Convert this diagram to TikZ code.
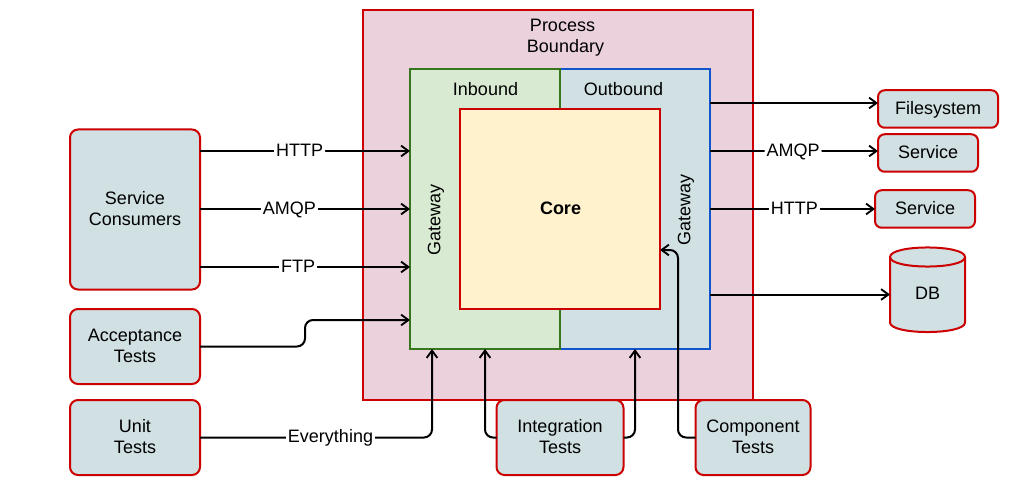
\documentclass[tikz,border=0pt]{standalone}
\usepackage{fontspec}
\setmainfont{Liberation Sans}
\usetikzlibrary{arrows.meta,calc}
\newcommand\nudged[2]{\raisebox{#1}[\height][\depth]{#2}}
\tikzset{
  sized/.style n args={2}{minimum width=#1*0.75pt,minimum height=#2*0.75pt,inner sep=0pt,outer sep=0pt},
  area/.style={draw=#1,line width=1.5pt},
  tbox/.style={draw=redline,fill=tealfill,line width=1.5pt,rounded corners=6pt,align=center},
  sbox/.style={tbox,rounded corners=5pt},
  lbl/.style={font=\fontsize{13.5}{15.75}\selectfont,text=black,align=center},
  tag/.style={lbl,fill=white,inner xsep=1.5pt,inner ysep=0pt,text height=10pt,text depth=3pt,yshift=-0.4pt},
  conn/.style={draw=black,line width=1.5pt,rounded corners=6pt,-{Straight Barb[length=5.5pt,width=8pt,line width=1.4pt]}},
}
\definecolor{redline}{HTML}{CC0000}
\definecolor{tealfill}{HTML}{D0E0E3}
\definecolor{pinkfill}{HTML}{EAD1DC}
\definecolor{greenfill}{HTML}{D9EAD3}
\definecolor{greenline}{HTML}{38761D}
\definecolor{blueline}{HTML}{1155CC}
\definecolor{corefill}{HTML}{FFF2CC}
\begin{document}
\begin{tikzpicture}[x=0.75pt,y=-0.75pt,font=\fontsize{13.5}{15.75}\selectfont]
\useasboundingbox (0,0) rectangle (1023,495);
% areas
\node[area=redline,fill=pinkfill,sized={390}{390}] (boundary) at (558,205) {};
\node[lbl] (boundarytxt) at (565.5,38) {Process\hspace*{4.5pt}\\Boundary};
\node[area=blueline,fill=tealfill,sized={150}{280}] (outb) at (635,209) {};
\node[area=greenline,fill=greenfill,sized={150}{280}] (inb) at (485,209) {};
\node[lbl] (inbtxt) at (485.5,89.5) {Inbound};
\node[lbl] (outbtxt) at (623.5,89.5) {Outbound};
\node[area=redline,fill=corefill,sized={200}{200}] (core) at (560,209) {};
\node[lbl,font=\fontsize{13.5}{15.75}\selectfont\bfseries] (coretxt) at (560.5,208.5) {Core};
\node[lbl,rotate=90] (gwl) at (436,220) {Gateway};
\node[lbl,rotate=90] (gwr) at (686,210) {Gateway};
% boxes
\node[tbox,sized={130}{160}] (cons) at (135,209.5) {\nudged{0.75pt}{Service}\\\nudged{0.75pt}{Consumers}};
\node[tbox,sized={130}{75}] (acc) at (135,346.5) {\nudged{0.75pt}{Acceptance}\\\nudged{0.75pt}{Tests}};
\node[tbox,sized={130}{75}] (unit) at (135,437.5) {\nudged{0.75pt}{Unit}\\\nudged{0.75pt}{Tests}};
\node[tbox,sized={127}{75}] (integ) at (560,437.5) {\nudged{0.75pt}{Integration}\\\nudged{0.75pt}{Tests}};
\node[tbox,sized={115}{75}] (comp) at (753,437.5) {\nudged{0.75pt}{Component}\\\nudged{0.75pt}{Tests}};
\node[sbox,sized={120}{37.5}] (fs) at (938,109) {\nudged{-0.5pt}{Filesystem}};
\node[sbox,sized={100}{37.5}] (s1) at (928,153) {\nudged{0.75pt}{Service}};
\node[sbox,sized={100}{37.5}] (s2) at (925,209) {\nudged{0.75pt}{Service}};
% DB cylinder
\node[sized={75}{84},lbl] (db) at (927.5,290) {};
\filldraw[draw=redline,fill=tealfill,line width=1.5pt]
  (890,257) .. controls (890,244.3) and (965,244.3) .. (965,257)
  -- (965,322.5) .. controls (965,335.2) and (890,335.2) .. (890,322.5) -- cycle;
\draw[redline,line width=1.5pt] (890,257) .. controls (890,269.7) and (965,269.7) .. (965,257);
\node[lbl] (dbtxt) at (927.5,293) {DB};
% level coordinates
\coordinate (y1) at (0,151);
\coordinate (y2) at (0,209);
\coordinate (y3) at (0,267);
\coordinate (y4) at (0,320);
\coordinate (y5) at (0,103);
\coordinate (y6) at (0,294.5);
\coordinate (y7) at (0,250);
\coordinate (x1) at (305,0);
\coordinate (x2) at (432,0);
\coordinate (x3) at (485,0);
\coordinate (x4) at (635,0);
\coordinate (x5) at (678,0);
% left connectors
\draw[conn] (cons.east |- y1) -- node[tag,pos=0.474] (t1) {HTTP} (inb.west |- y1);
\draw[conn] (cons.east |- y2) -- node[tag,pos=0.426] (t2) {AMQP} (inb.west |- y2);
\draw[conn] (cons.east |- y3) -- node[tag,pos=0.467] (t3) {FTP} (inb.west |- y3);
\draw[conn] (acc.east) -- (x1 |- acc.east) -- (x1 |- y4) -- (inb.west |- y4);
\draw[conn] (unit.east) -- (x2 |- unit.east) -- (x2 |- inb.south);
\node[tag] (t4) at (330.5,437.5) {Everything};
\draw[conn] (integ.west) -- (x3 |- integ.west) -- (x3 |- inb.south);
\draw[conn] (integ.east) -- (x4 |- integ.east) -- (x4 |- outb.south);
\draw[conn] (comp.west) -- (x5 |- comp.west) -- (x5 |- y7) -- (core.east |- y7);
% right connectors
\draw[conn] (outb.east |- y5) -- (fs.west |- y5);
\draw[conn] (outb.east |- y1) -- node[tag,pos=0.494] (t5) {AMQP} (s1.west |- y1);
\draw[conn] (outb.east |- y2) -- node[tag,pos=0.512] (t6) {HTTP} (s2.west |- y2);
\draw[conn] (outb.east |- y6) -- (db.west |- y6);
\end{tikzpicture}
\end{document}
